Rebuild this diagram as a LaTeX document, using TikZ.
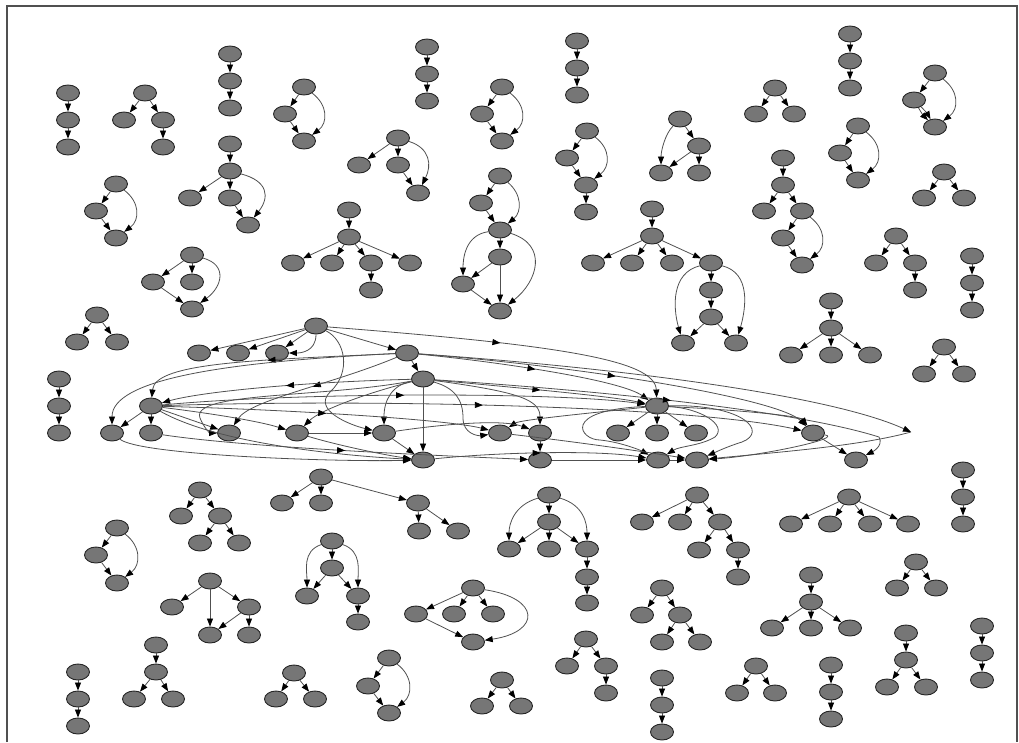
\documentclass[tikz,border=0pt]{standalone}
\usetikzlibrary{shapes.geometric,arrows.meta,decorations.markings}
\definecolor{ng}{RGB}{118,118,118}
\definecolor{lg}{RGB}{80,80,80}
\tikzset{
 nd/.style={ellipse,draw=black!85,line width=0.9pt,fill=ng,minimum width=23pt,minimum height=16pt,inner sep=0pt},
 ed/.style={draw=lg,line width=0.8pt,-{Triangle[length=8pt,width=6pt,color=black]}},
 led/.style={ed,postaction={decorate},decoration={markings,mark=at position 0.5 with {\arrow{Triangle[length=8pt,width=6pt,color=black]}}}},
 frame/.style={draw=lg,line width=1.5pt}
}
\newcommand{\gn}[3]{\node[nd] (#1) at (#2,#3) {};}
\newcommand{\myE}[2]{\draw[ed] (#1) -- (#2);}
\newcommand{\myC}[6]{\draw[ed] (#1) .. controls +(#3,#4) and +(#5,#6) .. (#2);}
\begin{document}
\begin{tikzpicture}[x=1pt,y=-1pt]
\useasboundingbox (0,0) rectangle (1019,742);
\coordinate (fbl) at (7,742); \coordinate (ftl) at (7,6); \coordinate (ftr) at (1017,6); \coordinate (fbr) at (1017,742);
\draw[frame] (fbl) -- (ftl) -- (ftr) -- (fbr);
% G1
\gn{g1a}{68}{93}\gn{g1b}{68}{120}\gn{g1c}{68}{147}
\myE{g1a}{g1b}\myE{g1b}{g1c}
% G2
\gn{g2a}{145}{93}\gn{g2b}{124}{120}\gn{g2c}{163}{120}\gn{g2d}{163}{147}
\myE{g2a}{g2b}\myE{g2a}{g2c}\myE{g2c}{g2d}
% G3
\gn{g3a}{230}{54}\gn{g3b}{230}{81}\gn{g3c}{230}{108}
\myE{g3a}{g3b}\myE{g3b}{g3c}
% G4
\gn{g4a}{116}{184}\gn{g4b}{96}{211}\gn{g4c}{116}{238}
\myE{g4a}{g4b}\myE{g4b}{g4c}\myC{g4a}{g4c}{24}{18}{24}{-18}
% G5
\gn{g5a}{230}{144}\gn{g5b}{230}{171}\gn{g5c}{190}{198}\gn{g5d}{230}{198}\gn{g5e}{248}{225}
\myE{g5a}{g5b}\myE{g5b}{g5c}\myE{g5b}{g5d}\myE{g5d}{g5e}\myC{g5b}{g5e}{38}{10}{22}{-28}
% G6
\gn{g6a}{304}{87}\gn{g6b}{285}{114}\gn{g6c}{304}{141}
\myE{g6a}{g6b}\myE{g6b}{g6c}\myC{g6a}{g6c}{24}{18}{24}{-18}
% G7
\gn{g7a}{427}{47}\gn{g7b}{427}{74}\gn{g7c}{427}{101}
\myE{g7a}{g7b}\myE{g7b}{g7c}
% G8
\gn{g8a}{398}{138}\gn{g8b}{359}{165}\gn{g8c}{398}{165}\gn{g8d}{418}{193}
\myE{g8a}{g8b}\myE{g8a}{g8c}\myE{g8c}{g8d}\myC{g8a}{g8d}{32}{10}{14}{-28}
% G9
\gn{g9a}{502}{87}\gn{g9b}{482}{114}\gn{g9c}{502}{141}
\myE{g9a}{g9b}\myE{g9b}{g9c}\myC{g9a}{g9c}{24}{18}{24}{-18}
% G10
\gn{g10a}{349}{210}\gn{g10b}{349}{237}\gn{g10c}{293}{263}\gn{g10d}{332}{263}\gn{g10e}{371}{263}\gn{g10f}{410}{263}\gn{g10g}{371}{290}
\myE{g10a}{g10b}\myE{g10b}{g10c}\myE{g10b}{g10d}\myE{g10b}{g10e}\myE{g10b}{g10f}\myE{g10e}{g10g}
% G11
\gn{g11a}{500}{176}\gn{g11b}{481}{203}\gn{g11c}{500}{230}\gn{g11d}{500}{257}\gn{g11e}{463}{284}\gn{g11f}{500}{311}
\myE{g11a}{g11b}\myE{g11b}{g11c}\myC{g11a}{g11c}{22}{18}{22}{-18}
\myE{g11c}{g11d}\myC{g11c}{g11e}{-35}{5}{0}{-25}\myE{g11d}{g11e}\myE{g11d}{g11f}\myE{g11e}{g11f}
\myC{g11c}{g11f}{48}{15}{38}{-30}
% G12
\gn{g12a}{577}{41}\gn{g12b}{577}{68}\gn{g12c}{577}{95}
\myE{g12a}{g12b}\myE{g12b}{g12c}
% G13
\gn{g13a}{587}{131}\gn{g13b}{567}{158}\gn{g13c}{586}{185}\gn{g13d}{586}{212}
\myE{g13a}{g13b}\myE{g13b}{g13c}\myC{g13a}{g13c}{24}{18}{24}{-18}\myE{g13c}{g13d}
% G14
\gn{g14a}{680}{119}\gn{g14b}{699}{146}\gn{g14c}{661}{173}\gn{g14d}{699}{173}
\myE{g14a}{g14b}\myE{g14b}{g14c}\myE{g14b}{g14d}\myC{g14a}{g14c}{-15}{15}{0}{-22}
% G15
\gn{g15a}{652}{209}\gn{g15b}{652}{236}\gn{g15c}{593}{263}\gn{g15d}{632}{263}\gn{g15e}{672}{263}\gn{g15f}{711}{263}
\gn{g15g}{711}{290}\gn{g15h}{711}{317}\gn{g15i}{683}{343}\gn{g15j}{736}{343}
\myE{g15a}{g15b}\myE{g15b}{g15c}\myE{g15b}{g15d}\myE{g15b}{g15e}\myE{g15b}{g15f}
\myE{g15f}{g15g}\myE{g15g}{g15h}\myE{g15h}{g15i}\myE{g15h}{g15j}
\myC{g15f}{g15i}{-40}{10}{-10}{-35}\myC{g15f}{g15j}{40}{10}{10}{-35}
% G16
\gn{g16a}{850}{34}\gn{g16b}{850}{61}\gn{g16c}{850}{88}
\myE{g16a}{g16b}\myE{g16b}{g16c}
% G17
\gn{g17a}{775}{88}\gn{g17b}{756}{114}\gn{g17c}{794}{114}
\myE{g17a}{g17b}\myE{g17a}{g17c}
% G18
\gn{g18a}{935}{73}\gn{g18b}{914}{100}\gn{g18c}{935}{127}
\myE{g18a}{g18b}\myC{g18a}{g18c}{24}{18}{24}{-18}
\draw[ed] (g18b) to[bend left=8] (g18c);\draw[ed] (g18b) to[bend right=8] (g18c);
% G19
\gn{g19a}{858}{126}\gn{g19b}{840}{153}\gn{g19c}{858}{180}
\myE{g19a}{g19b}\myE{g19b}{g19c}\myC{g19a}{g19c}{24}{18}{24}{-18}
% G20
\gn{g20a}{944}{172}\gn{g20b}{924}{198}\gn{g20c}{964}{198}
\myE{g20a}{g20b}\myE{g20a}{g20c}
% G21
\gn{g21a}{783}{158}\gn{g21b}{783}{185}\gn{g21c}{764}{211}\gn{g21d}{802}{211}\gn{g21e}{783}{238}\gn{g21f}{802}{265}
\myE{g21a}{g21b}\myE{g21b}{g21c}\myE{g21b}{g21d}\myE{g21d}{g21e}\myE{g21e}{g21f}\myC{g21d}{g21f}{24}{18}{24}{-18}
% G22
\gn{g22a}{896}{236}\gn{g22b}{876}{263}\gn{g22c}{915}{263}\gn{g22d}{915}{290}
\myE{g22a}{g22b}\myE{g22a}{g22c}\myE{g22c}{g22d}
% G23
\gn{g23a}{972}{256}\gn{g23b}{972}{283}\gn{g23c}{972}{310}
\myE{g23a}{g23b}\myE{g23b}{g23c}
% G24
\gn{g24a}{831}{301}\gn{g24b}{831}{328}\gn{g24c}{791}{355}\gn{g24d}{831}{355}\gn{g24e}{870}{355}
\myE{g24a}{g24b}\myE{g24b}{g24c}\myE{g24b}{g24d}\myE{g24b}{g24e}
% G25
\gn{g25a}{944}{347}\gn{g25b}{924}{374}\gn{g25c}{964}{374}
\myE{g25a}{g25b}\myE{g25a}{g25c}
% G26
\gn{g26a}{192}{255}\gn{g26b}{153}{282}\gn{g26c}{192}{282}\gn{g26d}{192}{309}
\myE{g26a}{g26b}\myE{g26a}{g26c}\myE{g26b}{g26d}\myC{g26a}{g26d}{36}{10}{30}{-22}
% G27
\gn{g27a}{97}{315}\gn{g27b}{77}{342}\gn{g27c}{117}{342}
\myE{g27a}{g27b}\myE{g27a}{g27c}
% G28
\gn{g28a}{59}{379}\gn{g28b}{59}{406}\gn{g28c}{59}{433}
\myE{g28a}{g28b}\myE{g28b}{g28c}
% G29
\gn{g29a}{200}{490}\gn{g29b}{181}{516}\gn{g29c}{220}{516}\gn{g29d}{200}{543}\gn{g29e}{239}{543}
\myE{g29a}{g29b}\myE{g29a}{g29c}\myE{g29c}{g29d}\myE{g29c}{g29e}
% G30
\gn{g30a}{117}{528}\gn{g30b}{96}{555}\gn{g30c}{117}{583}
\myE{g30a}{g30b}\myE{g30b}{g30c}\myC{g30a}{g30c}{24}{18}{24}{-18}
% G31
\gn{g31a}{210}{581}\gn{g31b}{172}{607}\gn{g31c}{249}{607}\gn{g31d}{210}{635}\gn{g31e}{249}{635}
\myE{g31a}{g31b}\myE{g31a}{g31d}\myE{g31a}{g31c}\myE{g31c}{g31d}\myE{g31c}{g31e}
% G32
\gn{g32a}{78}{672}\gn{g32b}{78}{699}\gn{g32c}{78}{726}
\myE{g32a}{g32b}\myE{g32b}{g32c}
% G33
\gn{g33a}{156}{645}\gn{g33b}{156}{672}\gn{g33c}{134}{699}\gn{g33d}{173}{699}
\myE{g33a}{g33b}\myE{g33b}{g33c}\myE{g33b}{g33d}
% G34
\gn{g34a}{321}{477}\gn{g34b}{282}{503}\gn{g34c}{321}{503}\gn{g34d}{418}{503}\gn{g34e}{419}{531}\gn{g34f}{458}{531}
\myE{g34a}{g34b}\myE{g34a}{g34c}\myE{g34a}{g34d}\myE{g34d}{g34e}\myE{g34d}{g34f}
% G35
\gn{g35a}{332}{541}\gn{g35b}{332}{568}\gn{g35c}{307}{596}\gn{g35d}{358}{596}\gn{g35e}{358}{622}
\myE{g35a}{g35b}\myC{g35a}{g35c}{-30}{10}{0}{-25}\myC{g35a}{g35d}{30}{10}{0}{-25}
\myE{g35b}{g35c}\myE{g35b}{g35d}\myE{g35d}{g35e}
% G36
\gn{g36a}{473}{588}\gn{g36b}{416}{614}\gn{g36c}{454}{614}\gn{g36d}{493}{614}\gn{g36e}{473}{642}
\myE{g36a}{g36b}\myE{g36a}{g36c}\myE{g36a}{g36d}\myE{g36b}{g36e}\myC{g36a}{g36e}{68}{10}{68}{-10}
% G37
\gn{g37a}{294}{673}\gn{g37b}{276}{699}\gn{g37c}{315}{699}
\myE{g37a}{g37b}\myE{g37a}{g37c}
% G38
\gn{g38a}{389}{658}\gn{g38b}{368}{686}\gn{g38c}{389}{713}
\myE{g38a}{g38b}\myE{g38b}{g38c}\myC{g38a}{g38c}{24}{18}{24}{-18}
% G39
\gn{g39a}{502}{680}\gn{g39b}{482}{706}\gn{g39c}{521}{706}
\myE{g39a}{g39b}\myE{g39a}{g39c}
% G40
\gn{g40a}{549}{495}\gn{g40b}{549}{522}\gn{g40c}{509}{549}\gn{g40d}{549}{549}\gn{g40e}{587}{549}\gn{g40f}{587}{577}\gn{g40g}{587}{603}
\myE{g40a}{g40b}\myC{g40a}{g40c}{-35}{10}{0}{-25}\myC{g40a}{g40e}{35}{10}{0}{-25}
\myE{g40b}{g40c}\myE{g40b}{g40d}\myE{g40b}{g40e}\myE{g40e}{g40f}\myE{g40f}{g40g}
% G41
\gn{g41a}{697}{495}\gn{g41b}{642}{522}\gn{g41c}{680}{522}\gn{g41d}{720}{522}\gn{g41e}{699}{550}\gn{g41f}{738}{550}\gn{g41g}{738}{577}
\myE{g41a}{g41b}\myE{g41a}{g41c}\myE{g41a}{g41d}\myE{g41d}{g41e}\myE{g41d}{g41f}\myE{g41f}{g41g}
% G42
\gn{g42a}{662}{588}\gn{g42b}{642}{615}\gn{g42c}{680}{615}\gn{g42d}{662}{642}\gn{g42e}{700}{642}
\myE{g42a}{g42b}\myE{g42a}{g42c}\myE{g42c}{g42d}\myE{g42c}{g42e}
% G43
\gn{g43a}{586}{639}\gn{g43b}{567}{666}\gn{g43c}{606}{666}\gn{g43d}{606}{693}
\myE{g43a}{g43b}\myE{g43a}{g43c}\myE{g43c}{g43d}
% G44
\gn{g44a}{662}{678}\gn{g44b}{662}{705}\gn{g44c}{662}{732}
\myE{g44a}{g44b}\myE{g44b}{g44c}
% G45
\gn{g45a}{756}{666}\gn{g45b}{737}{693}\gn{g45c}{775}{693}
\myE{g45a}{g45b}\myE{g45a}{g45c}
% G46
\gn{g46a}{849}{497}\gn{g46b}{791}{524}\gn{g46c}{830}{524}\gn{g46d}{870}{524}\gn{g46e}{908}{524}
\myE{g46a}{g46b}\myE{g46a}{g46c}\myE{g46a}{g46d}\myE{g46a}{g46e}
% G47
\gn{g47a}{963}{470}\gn{g47b}{963}{497}\gn{g47c}{963}{524}
\myE{g47a}{g47b}\myE{g47b}{g47c}
% G48
\gn{g48a}{916}{562}\gn{g48b}{897}{588}\gn{g48c}{936}{588}
\myE{g48a}{g48b}\myE{g48a}{g48c}
% G49
\gn{g49a}{811}{575}\gn{g49b}{811}{602}\gn{g49c}{772}{628}\gn{g49d}{811}{628}\gn{g49e}{850}{628}
\myE{g49a}{g49b}\myE{g49b}{g49c}\myE{g49b}{g49d}\myE{g49b}{g49e}
% G50
\gn{g50a}{831}{665}\gn{g50b}{831}{692}\gn{g50c}{831}{719}
\myE{g50a}{g50b}\myE{g50b}{g50c}
% G51
\gn{g51a}{906}{633}\gn{g51b}{906}{660}\gn{g51c}{887}{687}\gn{g51d}{926}{687}
\myE{g51a}{g51b}\myE{g51b}{g51c}\myE{g51b}{g51d}
% G52
\gn{g52a}{982}{626}\gn{g52b}{982}{653}\gn{g52c}{982}{680}
\myE{g52a}{g52b}\myE{g52b}{g52c}
% Big graph
\gn{p1}{316}{326}\gn{p2}{199}{353}\gn{p3}{238}{353}\gn{p4}{277}{353}
\gn{p5}{407}{353}\gn{p6}{423}{379}\gn{p7}{151}{406}\gn{p8}{657}{406}
\gn{q1}{112}{433}\gn{q2}{151}{433}\gn{q3}{229}{433}\gn{q4}{297}{433}\gn{q5}{384}{433}\gn{q6}{500}{433}
\gn{q7}{540}{433}\gn{q8}{618}{433}\gn{q9}{657}{433}\gn{q10}{696}{433}\gn{q11}{813}{433}
\gn{r1}{423}{460}\gn{r2}{540}{460}\gn{r3}{658}{460}\gn{r4}{697}{460}\gn{r5}{856}{460}
\coordinate (ap1) at (911,432);
% from p1
\myE{p1}{p2}\myE{p1}{p3}\myE{p1}{p4}
\draw[ed] (p1) .. controls (316,352) and (300,353) .. (p4);
\myE{p1}{p5}
\draw[led] (p1) .. controls (560,345) and (655,360) .. (p8);
\draw[ed] (p1) .. controls (345,340) and (352,372) .. (330,392) .. controls (312,410) and (350,425) .. (q5);
% from p5
\myE{p5}{p6}
\draw[led] (p5) .. controls (260,360) and (155,362) .. (p7);
\draw[ed] (p5) .. controls (220,362) and (112,380) .. (q1);
\draw[led] (p5) .. controls (330,385) and (250,400) .. (q3);
\draw[led] (p5) .. controls (500,362) and (620,380) .. (p8);
\draw[ed] (p5) .. controls (620,368) and (830,395) .. (ap1);
\draw[ed] (ap1) .. controls (860,446) and (780,452) .. (r4);
\draw[led] (p5) .. controls (600,368) and (780,400) .. (q11);
% from p6
\myE{p6}{r1}
\draw[ed] (p6) .. controls (392,385) and (384,400) .. (q5);
\draw[ed] (p6) .. controls (455,388) and (463,400) .. (463,418) .. controls (463,434) and (478,436) .. (q6);
\draw[ed] (p6) .. controls (520,392) and (540,400) .. (q7);
\draw[ed] (p6) .. controls (370,392) and (320,410) .. (q4);
\draw[led] (p6) .. controls (300,382) and (200,392) .. (p7);
\draw[led] (p6) .. controls (520,388) and (610,396) .. (p8);
\draw[led] (p6) .. controls (620,392) and (800,412) .. (879,437) .. controls (884,446) and (872,452) .. (r5);
\draw[ed] (p6) .. controls (320,398) and (190,392) .. (200,418) .. controls (204,428) and (210,433) .. (q3);
% from p7
\myE{p7}{q1}\myE{p7}{q2}\myE{p7}{q3}
\draw[ed] (p7) .. controls (200,412) and (255,420) .. (q4);
\draw[led] (p7) .. controls (300,392) and (560,392) .. (p8);
\draw[led] (p7) .. controls (300,410) and (450,420) .. (q6);
\draw[ed] (p7) .. controls (220,445) and (350,456) .. (r1);
\draw[led] (p7) .. controls (400,398) and (700,408) .. (q11);
\draw[led] (q2) .. controls (250,448) and (450,456) .. (r2);
\draw[ed] (q1) .. controls (140,455) and (330,462) .. (r1);
% from p8
\myE{p8}{q8}\myE{p8}{q9}\myE{p8}{q10}
\draw[ed] (p8) .. controls (740,410) and (800,416) .. (q11);
\draw[ed] (p8) .. controls (580,414) and (520,420) .. (q6);
\draw[ed] (p8) .. controls (700,408) and (728,425) .. (715,437) .. controls (700,446) and (680,446) .. (r3);
\draw[ed] (p8) .. controls (745,404) and (768,432) .. (742,442) .. controls (726,447) and (716,452) .. (r4);
\draw[ed] (p8) .. controls (560,410) and (580,440) .. (600,440) .. controls (620,442) and (640,450) .. (r3);
% row edges
\myE{q7}{r2}\myE{r2}{r3}\myE{r3}{r4}\myE{q11}{r5}\myE{q4}{q5}\myE{q5}{r1}
\draw[ed] (q4) .. controls (340,446) and (390,456) .. (r1);
\draw[led] (r1) .. controls (500,452) and (600,450) .. (r3);
\draw[ed] (q5) .. controls (430,426) and (500,418) .. (q7);
\draw[ed] (q11) .. controls (845,438) and (760,456) .. (r4);
\draw[ed] (q6) .. controls (560,440) and (620,448) .. (r4);
\end{tikzpicture}
\end{document}
